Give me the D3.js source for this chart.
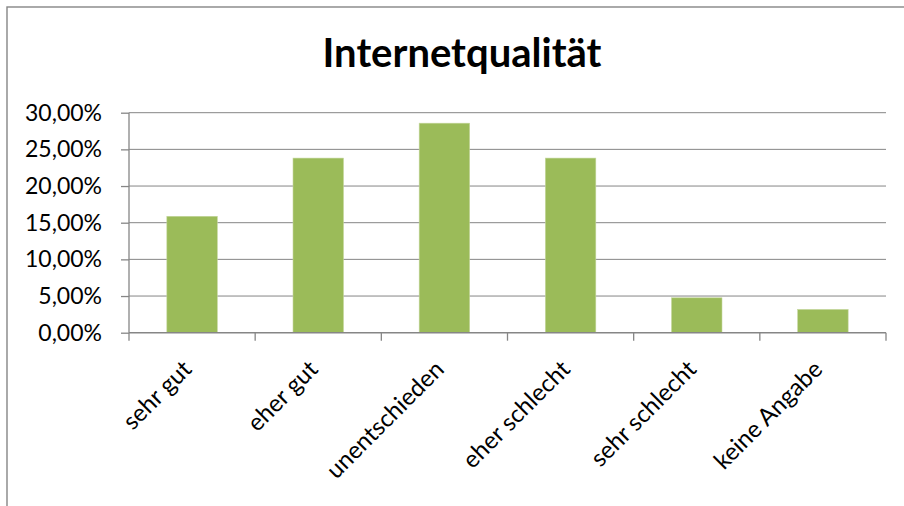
<!DOCTYPE html>
<html>
<head>
<meta charset="utf-8">
<script src="https://cdn.jsdelivr.net/npm/d3@7"></script>
<style>
  body { margin: 0; background: #fff; }
  svg { display: block; }
</style>
</head>
<body>
<svg id="chart" width="904" height="506"></svg>
<script>
// Survey answers: share of respondents per rating
const categories = ["sehr gut", "eher gut", "unentschieden", "eher schlecht", "sehr schlecht", "keine Angabe"];
const shares = [0.1587, 0.2381, 0.2857, 0.2381, 0.0476, 0.0317];
const yTicks = [0, 0.05, 0.10, 0.15, 0.20, 0.25, 0.30];
const chartTitle = "Internetqualität";

const W = 904, H = 506;
const plot = { left: 129, right: 886, top: 112.7, bottom: 332.7 };
const FONT = "Lato, 'Open Sans', sans-serif";
const AXIS_GREY = "#868686";
const BAR_GREEN = "#9BBB59";

// German number format: comma as decimal separator
const de = d3.formatLocale({ decimal: ",", thousands: ".", grouping: [3], currency: ["", " €"] });
const pct = de.format(".2%");

const svg = d3.select("#chart");

// outer chart frame
svg.append("rect")
  .attr("x", 7).attr("y", 7)
  .attr("width", W).attr("height", H)
  .attr("fill", "#fff")
  .attr("stroke", AXIS_GREY)
  .attr("stroke-width", 1.4);

const x = d3.scaleBand()
  .domain(categories)
  .range([plot.left, plot.right])
  .paddingInner(0.6)
  .paddingOuter(0.3);

const y = d3.scaleLinear()
  .domain([0, 0.30])
  .range([plot.bottom, plot.top]);

// horizontal gridlines
svg.append("g")
  .selectAll("line")
  .data(yTicks.filter(t => t > 0))
  .join("line")
  .attr("x1", plot.left).attr("x2", plot.right)
  .attr("y1", d => y(d)).attr("y2", d => y(d))
  .attr("stroke", AXIS_GREY)
  .attr("stroke-width", 1);

// bars
svg.append("g")
  .selectAll("rect")
  .data(categories.map((c, i) => ({ c, v: shares[i] })))
  .join("rect")
  .attr("x", d => x(d.c))
  .attr("width", x.bandwidth())
  .attr("y", d => y(d.v))
  .attr("height", d => y(0) - y(d.v))
  .attr("fill", BAR_GREEN)
  .attr("stroke", "#c3d69b")
  .attr("stroke-width", 0.6);

// y axis
const yAxis = svg.append("g")
  .attr("transform", `translate(${plot.left},0)`)
  .call(d3.axisLeft(y).tickValues(yTicks).tickFormat(pct).tickSize(8).tickPadding(19));
yAxis.select(".domain").attr("stroke", AXIS_GREY).attr("stroke-width", 1.3)
  .attr("d", `M0,${plot.top}V${plot.bottom}`);
yAxis.selectAll(".tick line").attr("stroke", AXIS_GREY).attr("stroke-width", 1.3);
yAxis.selectAll(".tick text")
  .attr("fill", "#000")
  .style("font-family", FONT)
  .style("font-size", "23px");

// x axis: baseline plus tick marks at category boundaries
const xAxis = svg.append("g");
xAxis.append("line")
  .attr("x1", plot.left).attr("x2", plot.right)
  .attr("y1", y(0)).attr("y2", y(0))
  .attr("stroke", AXIS_GREY).attr("stroke-width", 1.6);
const bounds = d3.range(categories.length + 1).map(i => plot.left + i * x.step());
xAxis.selectAll("line.tk")
  .data(bounds)
  .join("line")
  .attr("class", "tk")
  .attr("x1", d => d).attr("x2", d => d)
  .attr("y1", y(0)).attr("y2", y(0) + 8)
  .attr("stroke", AXIS_GREY).attr("stroke-width", 1.3);

// rotated category labels
xAxis.selectAll("text")
  .data(categories)
  .join("text")
  .attr("transform", d => `translate(${x(d) + x.bandwidth() / 2 + 1},${y(0) + 38}) rotate(-45)`)
  .attr("text-anchor", "end")
  .attr("fill", "#000")
  .style("font-family", FONT)
  .style("font-size", "24px")
  .text(d => d);

// title
svg.append("text")
  .attr("x", 462).attr("y", 66.7)
  .attr("text-anchor", "middle")
  .attr("fill", "#000")
  .style("font-family", FONT)
  .style("font-weight", "bold")
  .style("font-size", "40px")
  .text(chartTitle);
</script>
</body>
</html>
